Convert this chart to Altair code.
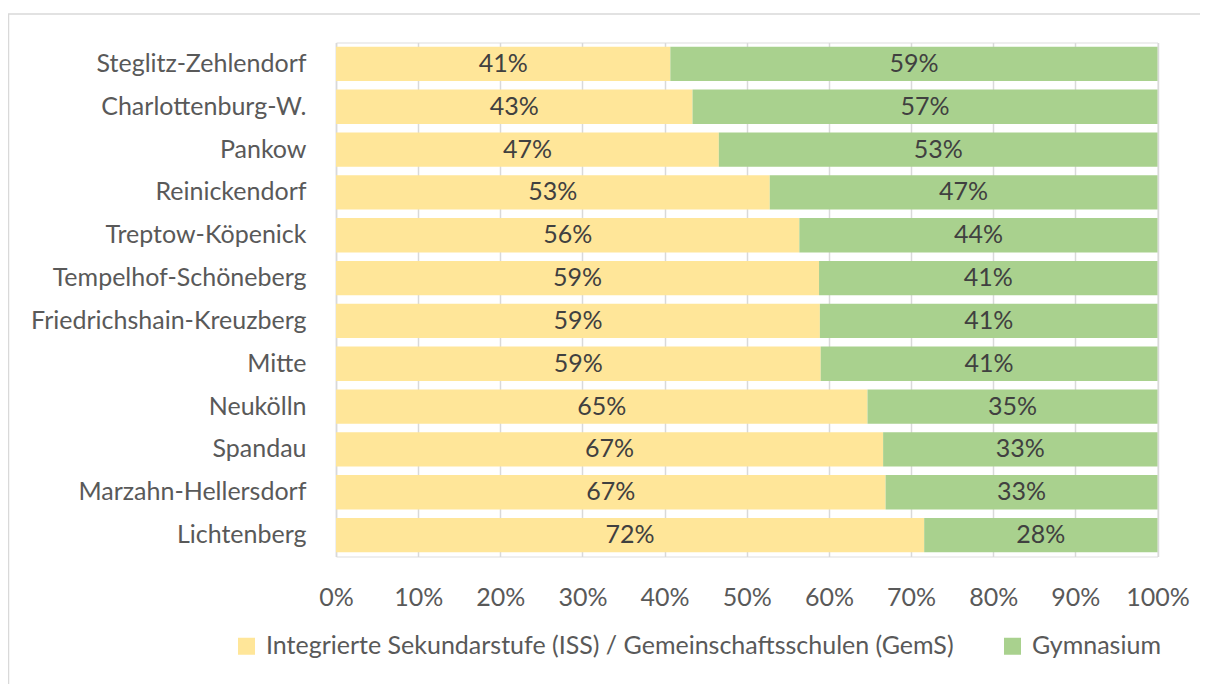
import altair as alt
import pandas as pd

districts = [
    "Steglitz-Zehlendorf", "Charlottenburg-W.", "Pankow", "Reinickendorf",
    "Treptow-Köpenick", "Tempelhof-Schöneberg", "Friedrichshain-Kreuzberg",
    "Mitte", "Neukölln", "Spandau", "Marzahn-Hellersdorf", "Lichtenberg",
]
iss_share = [0.407, 0.434, 0.466, 0.528, 0.564, 0.588, 0.589, 0.590, 0.647, 0.666, 0.669, 0.716]
gym_share = [0.593, 0.566, 0.534, 0.472, 0.436, 0.412, 0.411, 0.410, 0.353, 0.334, 0.331, 0.284]
series = ["Integrierte Sekundarstufe (ISS) / Gemeinschaftsschulen (GemS)", "Gymnasium"]
colors = ["#FFE699", "#A9D18E"]
x_ticks = [0, 0.1, 0.2, 0.3, 0.4, 0.5, 0.6, 0.7, 0.8, 0.9, 1.0]

rows = []
for d, a, b in zip(districts, iss_share, gym_share):
    rows.append({"district": d, "series": series[0], "order": 0, "value": a})
    rows.append({"district": d, "series": series[1], "order": 1, "value": b})
df = pd.DataFrame(rows)

FONT = "Lato"
FS = 25
W, H = 821.5, 514

base = alt.Chart(df).transform_stack(
    stack="value", groupby=["district"], as_=["x0", "x1"],
    sort=[alt.SortField("order", order="ascending")],
).transform_calculate(
    mid="(datum.x0 + datum.x1) / 2",
    label="format(datum.value, '.0%')",
)

y_enc = alt.Y(
    "district:N", sort=districts, title=None,
    scale=alt.Scale(paddingInner=0.2, paddingOuter=0.1),
    axis=alt.Axis(labelFontSize=FS, labelColor="#595959", labelFont=FONT,
                  labelPadding=30, ticks=False, domainColor="#D9D9D9",
                  domainWidth=1.5, labelLimit=400),
)

bars = base.mark_bar().encode(
    x=alt.X("x0:Q", scale=alt.Scale(domain=[0, 1], nice=False), title=None,
            axis=alt.Axis(values=x_ticks, format=".0%", labelFontSize=FS,
                          labelColor="#595959", labelFont=FONT, labelPadding=29,
                          labelOverlap=False, labelFlush=False,
                          ticks=False, domain=False, grid=True,
                          gridColor="#D9D9D9", gridWidth=1.5)),
    x2="x1:Q",
    y=y_enc,
    color=alt.Color("series:N", scale=alt.Scale(domain=series, range=colors),
                    legend=alt.Legend(
                        title=None, orient="none", direction="horizontal",
                        legendX=-102, legendY=591, symbolType="square",
                        symbolSize=289, symbolStrokeWidth=0, labelFontSize=FS,
                        labelColor="#595959", labelFont=FONT, labelOffset=7,
                        columnPadding=46, padding=0, labelLimit=900)),
    order=alt.Order("order:Q"),
)

texts = base.mark_text(fontSize=FS, font=FONT, color="#404040", baseline="middle").encode(
    x=alt.X("mid:Q"),
    y=alt.Y("district:N", sort=districts),
    text="label:N",
)

border_df = pd.DataFrame({"k": [0]})
border = alt.Chart(border_df).mark_rect(
    fillOpacity=0, stroke="#D9D9D9", strokeWidth=1.5
).encode(
    x=alt.value(-327.5), x2=alt.value(900),
    y=alt.value(-28.5), y2=alt.value(700),
)

chart = alt.layer(border, bars, texts).properties(
    width=W, height=H,
    autosize=alt.AutoSizeParams(type="none"),
    padding={"left": 328, "top": 34.5, "right": 42, "bottom": 127},
).configure_view(stroke=None).configure(background="white")

chart.save("out.html", embed_options={"renderer": "svg", "actions": False})
